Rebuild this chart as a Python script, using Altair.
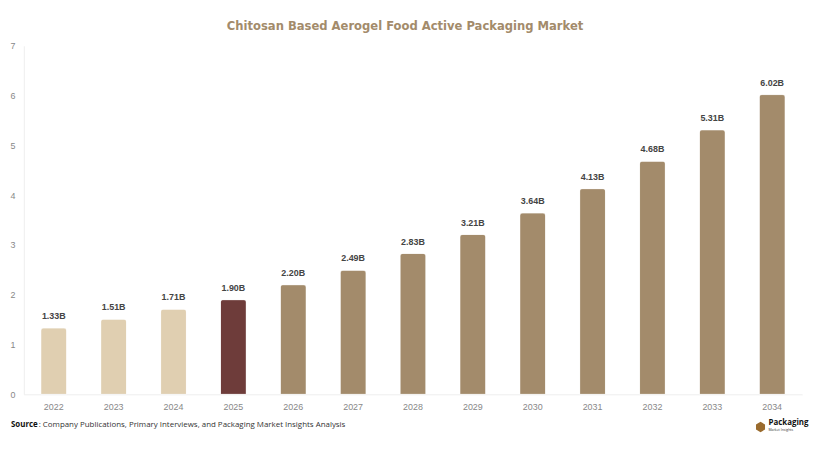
import altair as alt
import pandas as pd

years = ["2022", "2023", "2024", "2025", "2026", "2027", "2028", "2029", "2030", "2031", "2032", "2033", "2034"]
values = [1.33, 1.51, 1.71, 1.90, 2.20, 2.49, 2.83, 3.21, 3.64, 4.13, 4.68, 5.31, 6.02]
labels = ["1.33B", "1.51B", "1.71B", "1.90B", "2.20B", "2.49B", "2.83B", "3.21B", "3.64B", "4.13B", "4.68B", "5.31B", "6.02B"]
phase = ["hist", "hist", "hist", "base", "fc", "fc", "fc", "fc", "fc", "fc", "fc", "fc", "fc"]

df = pd.DataFrame({"year": years, "value": values, "label": labels, "phase": phase})

W, H = 786, 352

x = alt.X("year:N", sort=years, title=None,
          scale=alt.Scale(paddingInner=0.57, paddingOuter=0.285),
          axis=alt.Axis(labelAngle=0, ticks=False, domainColor="#eeeeee", labelColor="#888888",
                        labelFontSize=9, labelFont="Liberation Sans", labelPadding=8))
y = alt.Y("value:Q", title=None,
          scale=alt.Scale(domain=[0, 7], nice=False),
          axis=alt.Axis(values=[0, 1, 2, 3, 4, 5, 6, 7], ticks=False, grid=False, domainColor="#eeeeee",
                        labelColor="#888888", labelFontSize=9, labelFont="Liberation Sans", labelPadding=9))

bars = alt.Chart(df).mark_bar(cornerRadiusTopLeft=3, cornerRadiusTopRight=3,
                              stroke="#ffffff", strokeOpacity=0.35, strokeWidth=1).encode(
    x=x, y=y,
    color=alt.Color("phase:N", legend=None,
                    scale=alt.Scale(domain=["hist", "base", "fc"], range=["#e0cfb1", "#6e3c3a", "#a38b6b"])),
)

text = alt.Chart(df).mark_text(dy=-7, baseline="bottom", fontSize=9, fontWeight="bold",
                               font="Liberation Sans", color="#444444").encode(
    x=alt.X("year:N", sort=years), y="value:Q", text="label:N")

src_df = pd.DataFrame({"a": [1]})
src_bold = alt.Chart(src_df).mark_text(align="left", baseline="middle", fontSize=8, fontWeight="bold",
                                       font="Open Sans", color="#111111").encode(
    x=alt.value(-13), y=alt.value(383), text=alt.value("Source"))
src_rest = alt.Chart(src_df).mark_text(align="left", baseline="middle", fontSize=8,
                                       font="Open Sans", color="#333333").encode(
    x=alt.value(15), y=alt.value(383), text=alt.value(": Company Publications, Primary Interviews, and Packaging Market Insights Analysis"))

logo_icon = alt.Chart(src_df).mark_point(shape="M-0.87,-0.5L0,-1L0.87,-0.5L0.87,0.5L0,1L-0.87,0.5Z",
                                         filled=True, size=110, color="#9a6b2e", opacity=1).encode(
    x=alt.value(744), y=alt.value(385))
logo_text = alt.Chart(src_df).mark_text(align="left", baseline="middle", fontSize=8, fontWeight="bold",
                                        font="Open Sans", color="#111111").encode(
    x=alt.value(752), y=alt.value(381), text=alt.value("Packaging"))
logo_sub = alt.Chart(src_df).mark_text(align="left", baseline="middle", fontSize=3.5,
                                       font="Open Sans", color="#333333").encode(
    x=alt.value(752), y=alt.value(388), text=alt.value("Market Insights"))

chart = alt.layer(bars, text, src_bold, src_rest, logo_icon, logo_text, logo_sub).properties(
    width=W, height=H,
    title=alt.TitleParams("Chitosan Based Aerogel Food Active Packaging Market",
                          font="'DejaVu Sans Condensed', 'Liberation Sans'", fontSize=13, fontWeight="bold",
                          color="#a38b6b", anchor="middle", dx=-8, offset=9),
    autosize=alt.AutoSizeParams(type="none"),
    padding={"left": 16, "top": 36, "right": 10, "bottom": 50},
).configure_view(stroke=None)

chart.save("out.html", embed_options={"renderer": "svg", "actions": False})
